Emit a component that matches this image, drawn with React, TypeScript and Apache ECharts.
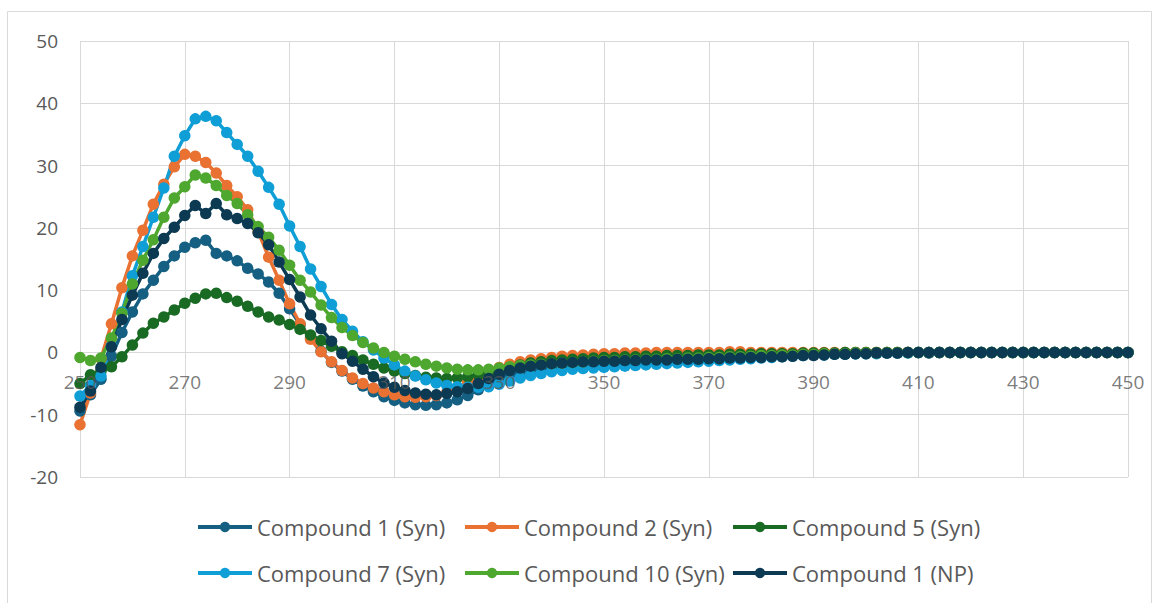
import React, { useEffect, useRef } from "react";
import * as echarts from "echarts";

const wavelengths = [
  250, 252, 254, 256, 258, 260, 262, 264, 266, 268,
  270, 272, 274, 276, 278, 280, 282, 284, 286, 288,
  290, 292, 294, 296, 298, 300, 302, 304, 306, 308,
  310, 312, 314, 316, 318, 320, 322, 324, 326, 328,
  330, 332, 334, 336, 338, 340, 342, 344, 346, 348,
  350, 352, 354, 356, 358, 360, 362, 364, 366, 368,
  370, 372, 374, 376, 378, 380, 382, 384, 386, 388,
  390, 392, 394, 396, 398, 400, 402, 404, 406, 408,
  410, 412, 414, 416, 418, 420, 422, 424, 426, 428,
  430, 432, 434, 436, 438, 440, 442, 444, 446, 448,
  450,
];

const compound1Syn = [
  -9.4, -6.8, -4.3, -0.6, 3.2, 6.5, 9.4, 11.6, 13.8, 15.5,
  16.9, 17.6, 18.0, 15.9, 15.5, 14.7, 13.5, 12.6, 11.3, 9.5,
  7.0, 4.5, 2.3, 0.2, -1.6, -3.0, -4.3, -5.4, -6.3, -7.1,
  -7.7, -8.1, -8.4, -8.5, -8.4, -8.1, -7.6, -6.9, -6.0, -5.0,
  -4.2, -3.6, -3.1, -2.8, -2.5, -2.3, -2.1, -2.0, -1.9, -1.8,
  -1.7, -1.6, -1.6, -1.5, -1.4, -1.4, -1.3, -1.2, -1.2, -1.1,
  -1.0, -0.9, -0.9, -0.8, -0.7, -0.6, -0.6, -0.5, -0.4, -0.4,
  -0.3, -0.3, -0.2, -0.2, -0.2, -0.1, -0.1, -0.1, -0.1, 0.0,
  0.0, -0.1, 0.0, 0.0, 0.0, 0.0, 0.0, 0.0, 0.0, 0.0,
  0.0, 0.0, 0.0, 0.0, 0.0, 0.0, 0.0, 0.0, 0.0, 0.0,
  0.0,
];

const compound2Syn = [
  -11.6, -6.5, -1.0, 4.6, 10.4, 15.5, 19.6, 23.8, 27.0, 29.8,
  31.8, 31.5, 30.5, 28.8, 26.8, 25.0, 22.9, 19.4, 15.3, 11.6,
  7.8, 4.6, 2.1, 0.1, -1.5, -2.9, -4.1, -5.0, -5.7, -6.3,
  -6.8, -7.1, -7.2, -7.1, -6.9, -6.4, -5.6, -4.7, -3.9, -3.2,
  -2.4, -1.9, -1.5, -1.2, -1.0, -0.8, -0.6, -0.5, -0.4, -0.3,
  -0.2, -0.2, -0.1, -0.1, -0.1, 0.0, 0.0, 0.0, 0.0, 0.0,
  0.0, 0.0, 0.1, 0.1, 0.0, 0.0, 0.0, 0.0, 0.0, 0.0,
  0.0, 0.0, 0.0, 0.0, 0.0, 0.0, 0.0, 0.0, 0.0, 0.0,
  0.0, 0.0, 0.0, 0.0, 0.0, 0.0, 0.0, 0.0, 0.0, 0.0,
  0.0, 0.0, 0.0, 0.0, 0.0, 0.0, 0.0, 0.0, 0.0, 0.0,
  0.0,
];

const compound5Syn = [
  -5.0, -3.6, -3.0, -2.3, -0.7, 1.2, 3.1, 4.7, 5.7, 6.8,
  7.9, 8.7, 9.4, 9.5, 8.8, 8.2, 7.4, 6.5, 5.7, 5.2,
  4.5, 3.7, 2.8, 1.9, 1.0, 0.1, -0.5, -1.2, -1.9, -2.5,
  -3.0, -3.4, -3.7, -4.0, -4.1, -4.2, -4.1, -3.9, -3.6, -3.2,
  -2.8, -2.4, -2.0, -1.7, -1.5, -1.3, -1.2, -1.1, -1.0, -0.9,
  -0.8, -0.8, -0.7, -0.7, -0.6, -0.6, -0.5, -0.5, -0.5, -0.4,
  -0.4, -0.4, -0.3, -0.3, -0.3, -0.2, -0.2, -0.2, -0.2, -0.1,
  -0.1, -0.1, -0.1, 0.0, 0.0, 0.0, 0.0, 0.0, 0.0, 0.0,
  0.0, 0.0, 0.0, 0.0, 0.0, 0.0, 0.0, 0.0, 0.0, 0.0,
  0.0, 0.0, 0.0, 0.0, 0.0, 0.0, 0.0, 0.0, 0.0, 0.0,
  0.0,
];

const compound7Syn = [
  -7.0, -5.3, -3.8, 1.0, 6.5, 12.3, 17.0, 21.7, 26.4, 31.5,
  34.8, 37.5, 37.9, 37.2, 35.3, 33.4, 31.5, 29.1, 26.5, 23.8,
  20.3, 17.0, 13.4, 10.6, 7.7, 5.3, 3.4, 1.7, 0.4, -0.9,
  -2.0, -3.0, -3.8, -4.4, -4.9, -5.3, -5.5, -5.6, -5.6, -5.5,
  -5.1, -4.6, -4.1, -3.7, -3.4, -3.1, -2.9, -2.7, -2.6, -2.5,
  -2.4, -2.3, -2.2, -2.1, -2.0, -1.9, -1.8, -1.7, -1.6, -1.5,
  -1.4, -1.3, -1.2, -1.1, -1.0, -0.9, -0.8, -0.7, -0.6, -0.5,
  -0.4, -0.4, -0.3, -0.3, -0.2, -0.2, -0.2, -0.1, -0.1, -0.1,
  0.0, 0.0, 0.0, 0.0, 0.0, 0.0, 0.0, 0.0, 0.0, 0.0,
  0.0, 0.0, 0.0, 0.0, 0.0, 0.0, 0.0, 0.0, 0.0, 0.0,
  0.0,
];

const compound10Syn = [
  -0.8, -1.3, -0.9, 2.3, 6.3, 11.0, 14.8, 18.1, 21.7, 24.8,
  26.6, 28.5, 28.0, 26.8, 25.2, 23.9, 22.1, 20.2, 18.5, 16.4,
  14.0, 11.6, 9.7, 7.6, 5.6, 4.0, 2.7, 1.6, 0.7, 0.0,
  -0.6, -1.1, -1.5, -1.9, -2.2, -2.5, -2.7, -2.8, -2.8, -2.7,
  -2.5, -2.3, -2.1, -2.0, -1.9, -1.8, -1.7, -1.6, -1.5, -1.4,
  -1.3, -1.3, -1.2, -1.2, -1.1, -1.1, -1.0, -1.0, -0.9, -0.9,
  -0.8, -0.8, -0.7, -0.7, -0.6, -0.5, -0.5, -0.4, -0.4, -0.3,
  -0.3, -0.2, -0.2, -0.2, -0.1, -0.1, -0.1, 0.0, 0.0, 0.0,
  0.0, 0.0, 0.0, 0.0, 0.0, 0.0, 0.0, 0.0, 0.0, 0.0,
  0.0, 0.0, 0.0, 0.0, 0.0, 0.0, 0.0, 0.0, 0.0, 0.0,
  0.0,
];

const compound1NP = [
  -8.8, -6.2, -2.4, 0.9, 5.3, 9.2, 12.7, 15.9, 18.3, 20.1,
  22.0, 23.6, 22.3, 23.9, 22.1, 21.5, 20.7, 19.2, 17.3, 14.5,
  11.7, 8.9, 6.0, 3.8, 1.8, -0.2, -1.4, -2.7, -3.9, -4.9,
  -5.6, -6.1, -6.5, -6.7, -6.8, -6.6, -6.3, -5.8, -5.0, -4.2,
  -3.5, -2.9, -2.5, -2.2, -2.0, -1.8, -1.7, -1.6, -1.5, -1.5,
  -1.4, -1.4, -1.3, -1.3, -1.2, -1.2, -1.2, -1.1, -1.1, -1.1,
  -1.0, -1.0, -0.9, -0.9, -0.8, -0.8, -0.7, -0.7, -0.6, -0.5,
  -0.5, -0.4, -0.3, -0.3, -0.2, -0.2, -0.1, -0.1, -0.1, 0.0,
  0.0, 0.0, 0.0, 0.0, 0.0, 0.0, 0.0, 0.0, 0.0, 0.0,
  0.0, 0.0, 0.0, 0.0, 0.0, 0.0, 0.0, 0.0, 0.0, 0.0,
  0.0,
];

const seriesNames = [
  "Compound 1 (Syn)",
  "Compound 2 (Syn)",
  "Compound 5 (Syn)",
  "Compound 7 (Syn)",
  "Compound 10 (Syn)",
  "Compound 1 (NP)",
];
const seriesValues = [compound1Syn, compound2Syn, compound5Syn, compound7Syn, compound10Syn, compound1NP];
const seriesColors = ["#156082", "#E97132", "#196B24", "#0F9ED5", "#4EA72E", "#0C3A52"];

const xTickLabels = [250, 270, 290, 310, 330, 350, 370, 390, 410, 430, 450];

const legendLeft = [196, 463, 731];
const legendTop = [516, 562];

const X_MIN = 250;
const X_MAX = 450;
const X_STEP = 20;
const Y_MIN = -20;
const Y_MAX = 50;
const Y_STEP = 10;
const GRID_TOP = 41;
const GRID_BOTTOM_PX = 477;

export default function App() {
  const ref = useRef<HTMLDivElement>(null);
  useEffect(() => {
    if (!ref.current) return;
    const chart = echarts.init(ref.current, undefined, { renderer: "svg" });
    const font = "'Open Sans', 'Liberation Sans', sans-serif";
    const lineSeries = seriesNames.map((name, i) => ({
      name,
      type: "line",
      z: 2,
      data: wavelengths.map((w, j) => [w, seriesValues[i][j]]),
      symbol: "circle",
      symbolSize: 11.5,
      showAllSymbol: true,
      color: seriesColors[i],
      lineStyle: { width: 3.5, color: seriesColors[i] },
      itemStyle: { color: seriesColors[i] },
    }));
    const tickLabelSeries = {
      name: "x-axis labels",
      type: "scatter",
      silent: true,
      symbolSize: 1,
      z: 100,
      zlevel: 1,
      data: xTickLabels.map((v) => [v, 0]),
      itemStyle: { color: "rgba(0,0,0,0)" },
      label: {
        show: true,
        position: "bottom",
        distance: 20,
        formatter: (p: any) => String(p.value[0]),
        color: "#595959",
        fontSize: 19,
        fontFamily: font,
      },
      labelLayout: { hideOverlap: false },
    };
    chart.setOption({
      animation: false,
      graphic: [
        {
          type: "rect",
          silent: true,
          z: -10,
          shape: { x: 7.5, y: 11.5, width: 1144, height: 600 },
          style: { fill: "none", stroke: "#d9d9d9", lineWidth: 1 },
        },
      ],
      grid: { left: 80, right: 31, top: GRID_TOP, bottom: 603 - GRID_BOTTOM_PX, containLabel: false },
      legend: seriesNames.map((name, i) => ({
        data: [name],
        left: legendLeft[i % 3],
        top: legendTop[Math.floor(i / 3)],
        itemWidth: 54,
        itemHeight: 13,
        itemGap: 0,
        selectedMode: false,
        padding: 0,
        lineStyle: { width: 4 },
        textStyle: { color: "#595959", fontSize: 22, fontFamily: font },
      })),
      xAxis: {
        type: "value",
        min: X_MIN,
        max: X_MAX,
        interval: X_STEP,
        axisLine: { show: false, onZero: false },
        axisTick: { show: false },
        axisLabel: { show: false },
        splitLine: { show: true, lineStyle: { color: "#d9d9d9", width: 1 } },
      },
      yAxis: {
        type: "value",
        min: Y_MIN,
        max: Y_MAX,
        interval: Y_STEP,
        axisLine: { show: false },
        axisTick: { show: false },
        axisLabel: { color: "#595959", fontSize: 19, fontFamily: font, margin: 22 },
        splitLine: { show: true, lineStyle: { color: "#d9d9d9", width: 1 } },
      },
      series: [...lineSeries, tickLabelSeries],
    });
    return () => chart.dispose();
  }, []);
  return (
    <div
      ref={ref}
      style={{ position: "fixed", left: 0, top: 0, width: 1159, height: 603, background: "#fff" }}
    />
  );
}
